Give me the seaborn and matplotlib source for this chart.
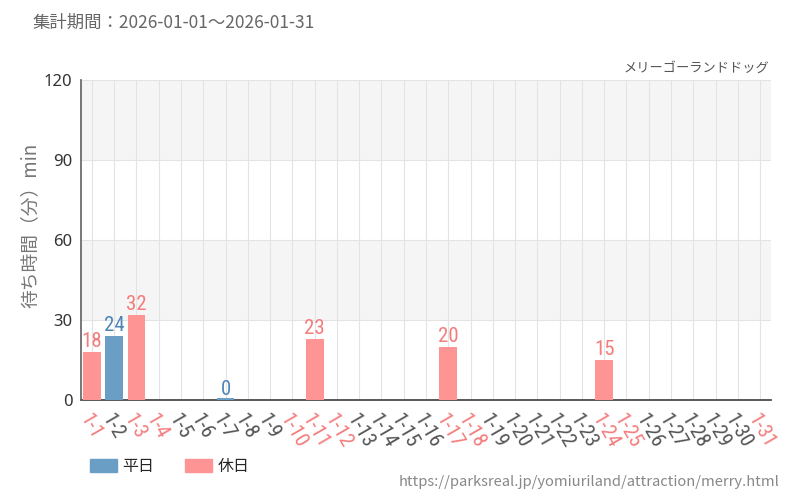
import numpy as np
import pandas as pd
import seaborn as sns
import matplotlib.pyplot as plt
from matplotlib import font_manager

# 1月の日別平均待ち時間（分）、データなしは NaN
days = [f"1-{d}" for d in range(1, 32)]
wait_min = [18, 24, 32, np.nan, np.nan, np.nan, 0, np.nan, np.nan, np.nan,
            23, np.nan, np.nan, np.nan, np.nan, np.nan, 20, np.nan, np.nan, np.nan,
            np.nan, np.nan, np.nan, 15, np.nan, np.nan, np.nan, np.nan, np.nan, np.nan,
            np.nan]
holidays = ["1-1", "1-3", "1-4", "1-10", "1-11", "1-12", "1-17", "1-18",
            "1-24", "1-25", "1-31"]
y_ticks = [0, 30, 60, 90, 120]

WEEKDAY = "平日"
HOLIDAY = "休日"
BLUE = "#6a9ec5"
RED = "#ff9494"
RED_TXT = "#f47c7c"
GRAY_TXT = "#555555"

df = pd.DataFrame({"day": days, "wait": wait_min})
df["kind"] = np.where(df["day"].isin(holidays), HOLIDAY, WEEKDAY)

sns.set_theme(style="white")
plt.rcParams["font.family"] = ["Noto Sans CJK JP", "DejaVu Sans"]

# 細身のフォントがあれば使う
names = {f.name for f in font_manager.fontManager.ttflist}
cond = [n for n in ["Roboto Condensed", "Liberation Sans Narrow", "Open Sans Condensed",
                    "DejaVu Sans Condensed", "Roboto"] if n in names][:1] + ["DejaVu Sans"]
num_stretch = "condensed"

fig = plt.figure(figsize=(8, 5), dpi=100)
ax = fig.add_axes([0.101, 0.2, 0.863, 0.64])

# 背景の縞
for lo in y_ticks[:-1]:
    if (lo // 30) % 2 == 1:
        ax.axhspan(lo, lo + 30, color="#f5f5f5", zorder=0, lw=0)

sns.barplot(data=df, x="day", y="wait", hue="kind", order=days,
            hue_order=[WEEKDAY, HOLIDAY], palette={WEEKDAY: BLUE, HOLIDAY: RED},
            dodge=False, width=0.8, ax=ax, legend=False, zorder=3,
            saturation=1, linewidth=0)
for p in ax.patches:
    if p.get_height() == 0:
        # 0分の棒も細い線として見せる
        p.set_height(0.7)

for i, (d, v) in enumerate(zip(days, wait_min)):
    if np.isnan(v):
        continue
    c = RED_TXT if d in holidays else "#4f86b8"
    ax.text(i, v + 0.2, f"{int(v)}", ha="center", va="bottom", color=c,
            fontsize=15, family=cond, fontstretch=num_stretch, zorder=4)

ax.set_ylim(0, 120)
ax.set_xlim(-0.5, len(days) - 0.5)
ax.set_yticks(y_ticks)
ax.grid(True, axis="both", color="#e3e3e3", lw=0.8, zorder=1)
ax.set_axisbelow(True)
for s in ["top", "right"]:
    ax.spines[s].set_visible(False)
ax.spines["left"].set_color("#666666")
ax.spines["bottom"].set_color("#444444")
ax.spines["bottom"].set_zorder(2)
ax.tick_params(axis="both", which="both", direction="out", length=4,
               color="#333333", width=1)
ax.tick_params(axis="y", labelsize=12, labelcolor="#333333", pad=2)
ax.set_yticklabels([str(t) for t in y_ticks], family=["Noto Sans", "DejaVu Sans"])
ax.set_xticks(range(len(days)))
ax.set_xticklabels(days, rotation=-60, ha="left", va="top",
                   rotation_mode="anchor", fontsize=15, family=cond,
                   fontstretch=num_stretch)
for lab in ax.get_xticklabels():
    lab.set_color(RED_TXT if lab.get_text() in holidays else GRAY_TXT)
ax.set_xlabel("")
ax.set_ylabel("待ち時間（分）min", color="#777777", fontsize=13.5)
ax.yaxis.set_label_coords(-0.058, 0.545)

fig.text(0.04, 0.955, "集計期間：2026-01-01～2026-01-31", fontsize=12.5,
         color="#666666", va="center")
fig.text(0.962, 0.864, "メリーゴーランドドッグ", fontsize=9.5, color="#555555",
         ha="right", va="center")
fig.text(0.975, 0.036, "https://parksreal.jp/yomiuriland/attraction/merry.html",
         fontsize=10.6, color="#888888", ha="right", va="center")

handles = [plt.Rectangle((0, 0), 1, 1, color=BLUE),
           plt.Rectangle((0, 0), 1, 1, color=RED)]
fig.legend(handles, [WEEKDAY, HOLIDAY], loc="center left",
           bbox_to_anchor=(0.112, 0.067), ncol=2, frameon=False, fontsize=11.5,
           handlelength=1.7, handleheight=0.85, handletextpad=0.35,
           columnspacing=1.9, borderpad=0, borderaxespad=0)

fig.savefig("out.png", dpi=100)
